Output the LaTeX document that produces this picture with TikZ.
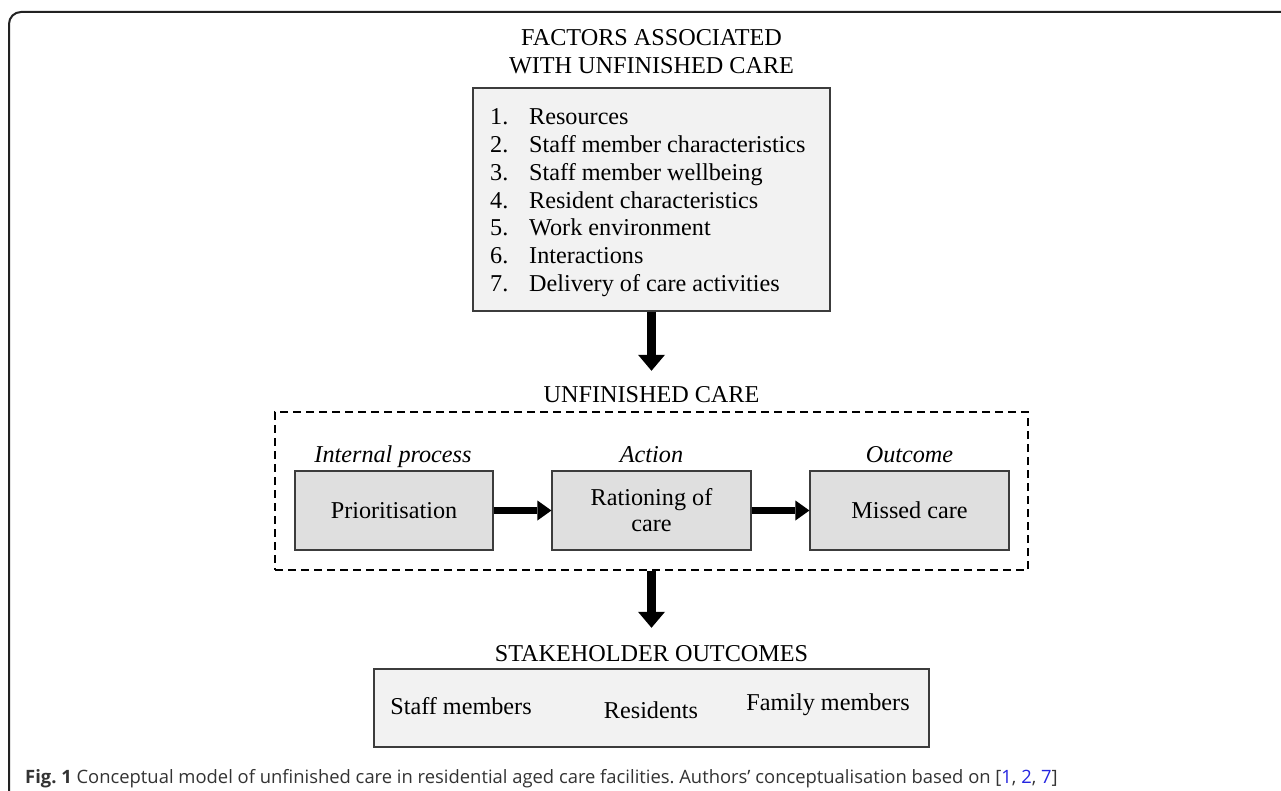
\documentclass[tikz,border=0pt]{standalone}
\usepackage{fontspec}
\setmainfont{Liberation Serif}
\newfontfamily\capfont{Open Sans}
\usetikzlibrary{arrows.meta}
\frenchspacing
\definecolor{lightfill}{HTML}{F2F2F2}
\definecolor{procfill}{HTML}{DFDFDF}
\definecolor{boxline}{HTML}{3C3C3C}
\definecolor{framecol}{HTML}{222222}
\definecolor{capgray}{HTML}{333333}
\definecolor{citeblue}{HTML}{2525E0}
\tikzset{
  txt/.style={inner sep=0pt, font=\fontsize{24.2}{27.7}\selectfont},
  greybox/.style={draw=boxline, line width=1.2pt, fill=#1, inner sep=0pt,
    font=\fontsize{24.2}{26}\selectfont, align=center},
  bigarrow/.style={line width=9pt, draw=black,
    -{Triangle[width=27pt,length=16pt,line width=0pt]}},
  smallarrow/.style={line width=7pt, draw=black,
    -{Triangle[width=20pt,length=14pt,line width=0pt]}},
  dashedbox/.style={draw=black, line width=2pt, dash pattern=on 8pt off 5pt,
    inner sep=0pt, minimum width=753pt, minimum height=158pt},
}
\begin{document}
\begin{tikzpicture}[x=1pt,y=-1pt]
\useasboundingbox (0,0) rectangle (1281,791);
\fill[white] (0,0) rectangle (1281,791);
% outer frame
\draw[framecol, line width=2pt, rounded corners=12pt] (1300,12) -- (9,12) -- (9,810);

% top title
\node[txt, anchor=base] (ftitle) at (651.5,45.7)
  {\begin{tabular}[t]{@{}c@{}}FACTORS ASSOCIATED\\WITH UNFINISHED CARE\end{tabular}};
% factors box
\node[greybox=lightfill, minimum width=357pt, minimum height=223pt] (factors) at (651.5,199.5) {};
\node[txt, anchor=base west] (list) at (490,125)
  {\begin{tabular}[t]{@{}l@{}}
   \makebox[39pt][l]{1.}Resources\\
   \makebox[39pt][l]{2.}Staff member characteristics\\
   \makebox[39pt][l]{3.}Staff member wellbeing\\
   \makebox[39pt][l]{4.}Resident characteristics\\
   \makebox[39pt][l]{5.}Work environment\\
   \makebox[39pt][l]{6.}Interactions\\
   \makebox[39pt][l]{7.}Delivery of care activities
   \end{tabular}};

% unfinished care
\node[txt, anchor=base] (uc) at (651.5,402) {UNFINISHED CARE};
\node[dashedbox] (ucbox) at (651.5,491) {};

\node[txt, anchor=base] (lip) at (393,462) {\itshape Internal process};
\node[txt, anchor=base] (lact) at (651.5,462) {\itshape Action};
\node[txt, anchor=base] (lout) at (909.5,462) {\itshape Outcome};

\node[greybox=procfill, minimum width=198pt, minimum height=79pt] (prio) at (394,510.5) {Prioritisation};
\node[greybox=procfill, minimum width=199pt, minimum height=79pt] (rat) at (651.5,510.5) {Rationing of\\care};
\node[greybox=procfill, minimum width=199pt, minimum height=79pt] (miss) at (909.5,510.5) {Missed care};

% stakeholder outcomes
\node[txt, anchor=base] (so) at (651.5,661) {STAKEHOLDER OUTCOMES};
\node[greybox=lightfill, minimum width=555pt, minimum height=78pt] (sobox) at (651.5,708) {};
\node[txt, anchor=base] (staff) at (461,714) {Staff members};
\node[txt, anchor=base] (res) at (651,718) {Residents};
\node[txt, anchor=base] (fam) at (828,710) {Family members};

% arrows
\draw[bigarrow, shorten >=15pt] (factors.south) -- (uc.north);
\draw[bigarrow, shorten >=17pt] (ucbox.south) -- (so.north);
\draw[smallarrow] (prio.east) -- (rat.west);
\draw[smallarrow] (rat.east) -- (miss.west);

% caption
\node[anchor=base west, inner sep=0pt, text=capgray,
      font=\capfont\fontsize{18.4}{22}\selectfont] (cap) at (25,783)
  {\textbf{Fig. 1} Conceptual model of unfinished care in residential aged care facilities. Authors’ conceptualisation based on [\textcolor{citeblue}{1}, \textcolor{citeblue}{2}, \textcolor{citeblue}{7}]};
\end{tikzpicture}
\end{document}
